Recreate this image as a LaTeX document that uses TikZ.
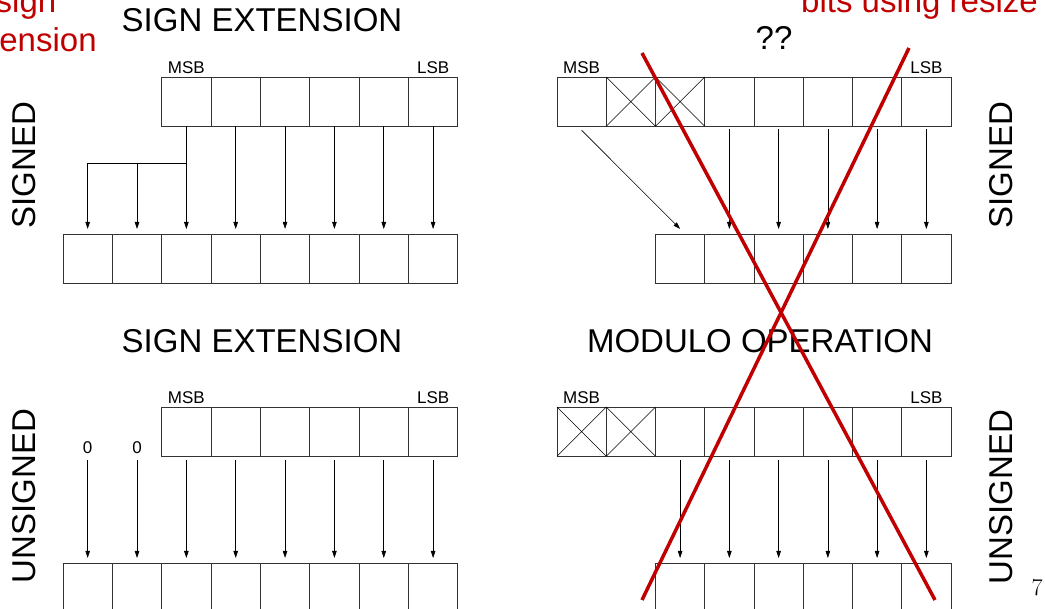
\documentclass[tikz,border=0pt]{standalone}
\usepackage{fontspec}
\newfontfamily\lsans{Liberation Sans}
\usetikzlibrary{arrows.meta}
\definecolor{redx}{HTML}{C00000}
\begin{document}
\begin{tikzpicture}[x=1pt,y=-1pt,
 cell/.style={draw=black!80,line width=0.8pt,minimum width=49.3pt,minimum height=49.3pt,inner sep=0pt,outer sep=0pt},
 arr/.style={-{Triangle[length=7pt,width=4.5pt]},line width=0.6pt},
 title/.style={font=\lsans\fontsize{33}{39}\selectfont,anchor=base,inner sep=0pt},
 lab/.style={font=\lsans\fontsize{17}{20}\selectfont,anchor=base,inner sep=0pt},
 redtxt/.style={font=\lsans\fontsize{33}{39}\selectfont,text=redx,inner sep=0pt},
 xcross/.style={line width=0.5pt},
 redline/.style={draw=redx,line width=3.5pt}]
\useasboundingbox (0,0) rectangle (1045,609);

% red annotations (cut by the page edge, as in the reference)
\node[redtxt,anchor=base] (r1) at (26,13) {sign};
\node[redtxt,anchor=base] (r2) at (26,52) {extension};
\node[redtxt,anchor=base east] (r3) at (1038,13) {bits using resize};

% titles
\node[title] (t1) at (262,32) {SIGN EXTENSION};
\node[title] (t2) at (262,353) {SIGN EXTENSION};
\node[title] (t3) at (760,353) {MODULO OPERATION};
\node[title] (qq) at (774,50) {??};

% side labels
\node[title,rotate=90] (s1) at (35,165) {SIGNED};
\node[title,rotate=90] (s2) at (35,496) {UNSIGNED};
\node[title,rotate=90] (s3) at (1012,165) {SIGNED};
\node[title,rotate=90] (s4) at (1012,497) {UNSIGNED};

% ---------- top left ----------
\foreach \k in {3,...,8} \node[cell] (TLt\k) at ({63+(\k-0.5)*49.35},101.6) {};
\foreach \k in {1,...,8} \node[cell] (TLb\k) at ({63+(\k-0.5)*49.35},258.6) {};
\node[lab] (TLm) at ([yshift=3pt]TLt3.north) {MSB};
\node[lab] (TLl) at ([yshift=3pt]TLt8.north) {LSB};
\foreach \k in {3,...,8} \draw[arr,shorten >=5pt] (TLt\k.south) -- (TLb\k.north);
\path (TLt3.south) ++(0,37) coordinate (br);
\draw[arr,shorten >=5pt] (br) -| (TLb1.north);
\draw[arr,shorten >=5pt] (br -| TLb2.north) -- (TLb2.north);

% ---------- top right ----------
\foreach \k in {1,...,8} \node[cell] (TRt\k) at ({557+(\k-0.5)*49.25},101.6) {};
\foreach \k in {3,...,8} \node[cell] (TRb\k) at ({557+(\k-0.5)*49.25},258.6) {};
\foreach \k in {2,3} \draw[xcross] (TRt\k.north west) -- (TRt\k.south east) (TRt\k.north east) -- (TRt\k.south west);
\node[lab] (TRm) at ([yshift=3pt]TRt1.north) {MSB};
\node[lab] (TRl) at ([yshift=3pt]TRt8.north) {LSB};
\foreach \k in {4,...,8} \draw[arr,shorten <=3pt,shorten >=5pt] (TRt\k.south) -- (TRb\k.north);
\draw[arr] ([yshift=-4pt]TRt1.south) -- ([yshift=5pt]TRb3.north);

% ---------- bottom left ----------
\foreach \k in {3,...,8} \node[cell] (BLt\k) at ({63+(\k-0.5)*49.35},431.6) {};
\foreach \k in {1,...,8} \node[cell] (BLb\k) at ({63+(\k-0.5)*49.35},587.6) {};
\node[lab] (BLm) at ([yshift=3pt]BLt3.north) {MSB};
\node[lab] (BLl) at ([yshift=3pt]BLt8.north) {LSB};
\foreach \k in {1,2} \node[lab] (Z\k) at ({63+(\k-0.5)*49.35},454) {0};
\foreach \k in {1,2} \draw[arr,shorten <=6pt,shorten >=5pt] (Z\k.south) -- (BLb\k.north);
\foreach \k in {3,...,8} \draw[arr,shorten <=4pt,shorten >=5pt] (BLt\k.south) -- (BLb\k.north);

% ---------- bottom right ----------
\foreach \k in {1,...,8} \node[cell] (BRt\k) at ({557+(\k-0.5)*49.25},431.6) {};
\foreach \k in {3,...,8} \node[cell] (BRb\k) at ({557+(\k-0.5)*49.25},587.6) {};
\foreach \k in {1,2} \draw[xcross] (BRt\k.north west) -- (BRt\k.south east) (BRt\k.north east) -- (BRt\k.south west);
\node[lab] (BRm) at ([yshift=3pt]BRt1.north) {MSB};
\node[lab] (BRl) at ([yshift=3pt]BRt8.north) {LSB};
\foreach \k in {3,...,8} \draw[arr,shorten <=4pt,shorten >=5pt] (BRt\k.south) -- (BRb\k.north);

% red cross-out
\draw[redline] (642,53) -- (935,600);
\draw[redline] (909,48) -- (642,600);

% page number
\node[anchor=base,inner sep=0pt,font=\fontsize{24}{28}\selectfont] (pg) at (1037,595) {7};
\end{tikzpicture}
\end{document}
